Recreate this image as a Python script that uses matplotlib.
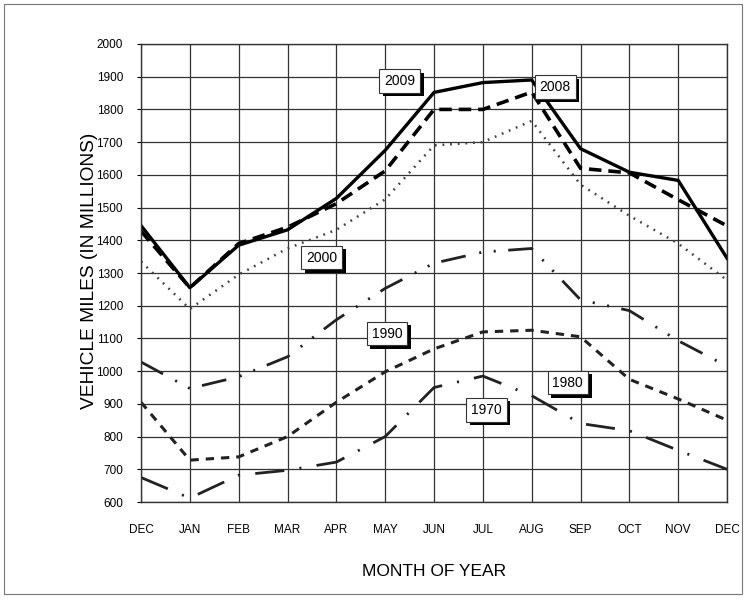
import matplotlib
matplotlib.use('Agg')
import matplotlib.pyplot as plt
import matplotlib.patheffects as pe
from matplotlib.patches import Rectangle

plt.rcParams['font.family'] = ['Liberation Sans', 'DejaVu Sans']
plt.rcParams['lines.scale_dashes'] = False

months = ['DEC', 'JAN', 'FEB', 'MAR', 'APR', 'MAY', 'JUN', 'JUL', 'AUG', 'SEP', 'OCT', 'NOV', 'DEC']
y2009 = [1445, 1255, 1385, 1432, 1528, 1675, 1852, 1882, 1890, 1680, 1608, 1583, 1345]
y2008 = [1428, 1255, 1390, 1440, 1512, 1612, 1800, 1800, 1853, 1620, 1606, 1524, 1444]
y2000 = [1335, 1190, 1295, 1375, 1432, 1525, 1690, 1700, 1765, 1570, 1475, 1390, 1278]
y1990 = [1028, 947, 983, 1044, 1157, 1253, 1330, 1364, 1375, 1218, 1185, 1093, 1015]
y1980 = [905, 728, 738, 800, 905, 998, 1068, 1120, 1125, 1105, 975, 915, 850]
y1970 = [675, 612, 682, 697, 722, 800, 950, 985, 925, 840, 818, 758, 700]

x = list(range(len(months)))

fig = plt.figure(figsize=(7.48, 6.0), dpi=100)
ax = fig.add_axes([0.1885, 0.1633, 0.7835, 0.7634])

ax.plot(x, y2009, color='black', lw=2.4, ls='-')
ax.plot(x, y2008, color='black', lw=2.6, ls=(0, (9, 5)))
ax.plot(x, y2000, color='#444444', lw=1.8, ls=(0, (1.3, 4.2)))
ax.plot(x, y1990, color='#222222', lw=2.0, ls=(0, (18, 10, 1.5, 9, 1.5, 9)))
ax.plot(x, y1980, color='#222222', lw=2.2, ls=(0, (6, 5)))
ax.plot(x, y1970, color='#222222', lw=2.0, ls=(0, (21, 11, 1.5, 11)))

ax.set_xlim(0, 12)
ax.set_ylim(600, 2000)
ax.set_xticks(x)
ax.set_xticklabels(months, fontsize=8.5)
ax.set_yticks(range(600, 2001, 100))
ax.tick_params(axis='y', labelsize=8.5, length=3, pad=10)
ax.tick_params(axis='x', length=0, pad=16)
ax.grid(True, color='#333333', lw=0.9)
for s in ax.spines.values():
    s.set_color('#333333')
    s.set_linewidth(1.0)

ax.set_xlabel('MONTH OF YEAR', fontsize=12.5, labelpad=20)
ax.set_ylabel('VEHICLE MILES (IN MILLIONS)', fontsize=13.8)
ax.yaxis.set_label_coords(-0.073, 0.505)

labels = ['2009', '2008', '2000', '1990', '1980', '1970']
lab_x = [5.3, 8.48, 3.7, 5.04, 8.74, 7.07]
lab_y = [1887, 1868, 1347, 1115, 965, 882]
for t, lx, ly in zip(labels, lab_x, lab_y):
    txt = ax.text(lx, ly, t, fontsize=10, ha='center', va='center', zorder=5,
                  bbox=dict(boxstyle='square,pad=0.35', fc='white', ec='#333333', lw=0.8))
    txt.get_bbox_patch().set_path_effects([
        pe.withSimplePatchShadow(offset=(2.5, -2.5), shadow_rgbFace='black', alpha=1.0)])

fig.patches.append(Rectangle((0.006, 0.01), 0.986, 0.983, transform=fig.transFigure,
                             fill=False, ec='#777777', lw=0.8))

fig.savefig('out.png', dpi=100)
